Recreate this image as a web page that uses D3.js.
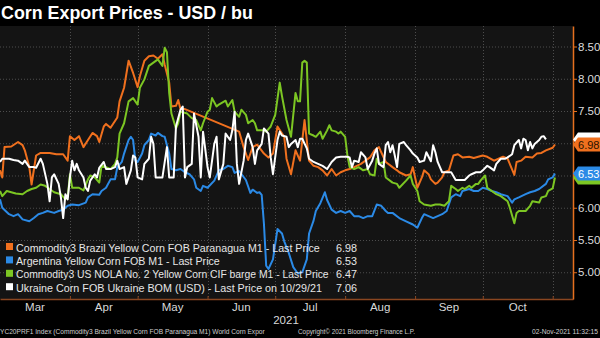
<!DOCTYPE html>
<html>
<head>
<meta charset="utf-8">
<script src="https://cdn.jsdelivr.net/npm/d3@7"></script>
<style>
  html, body { margin: 0; padding: 0; background: #000; }
  svg { display: block; font-family: "Liberation Sans", Arial, sans-serif; }
</style>
</head>
<body>
<svg id="chart" width="600" height="338"></svg>
<script>
// ---- data -------------------------------------------------------------
const title = "Corn Export Prices - USD / bu";
const monthLabels = ["Mar", "Apr", "May", "Jun", "Jul", "Aug", "Sep", "Oct"];
const yearLabel = "2021";
const yTicks = [5.0, 5.5, 6.0, 6.5, 7.0, 7.5, 8.0, 8.5];

const seriesNames = [
  "Commodity3 Brazil Yellow Corn FOB Paranagua M1 - Last Price",
  "Argentina Yellow Corn FOB M1 - Last Price",
  "Commodity3 US NOLA No. 2 Yellow Corn CIF barge M1 - Last Price",
  "Ukraine Corn FOB Ukraine BOM (USD) - Last Price on 10/29/21"
];
const seriesColors = ["#f0701e", "#2b8ae6", "#7cc623", "#ffffff"];

const brazilPrices = [
  ["03-01",6.58],["03-02",6.47],["03-03",6.94],["03-06",6.95],["03-09",7.02],["03-11",6.97],
  ["03-12",6.89],["03-14",6.63],["03-15",6.36],["03-17",6.81],["03-19",6.85],["03-23",6.85],
  ["03-26",6.83],["03-29",6.83],["03-31",6.73],["04-01",7.11],["04-03",7.05],["04-05",7.11],
  ["04-07",6.94],["04-09",7.05],["04-11",7.16],["04-13",7.11],["04-14",7.02],["04-16",7.26],
  ["04-17",7.30],["04-19",7.24],["04-22",7.40],["04-23",7.65],["04-25",7.86],["04-27",8.28],
  ["04-29",8.09],["05-01",7.87],["05-02",8.04],["05-04",8.28],["05-06",8.35],["05-08",8.36],
  ["05-10",8.31],["05-12",8.38],["05-13",8.22],["05-15",7.94],["05-16",7.57],["05-18",7.58],
  ["05-19",7.67],["05-20",7.53],["05-22",7.53],["06-15",7.18],["06-17",6.94],["06-19",6.74],
  ["06-21",6.94],["06-23",6.98],["06-26",6.84],["06-28",6.78],["06-30",6.84],["07-02",7.26],
  ["07-05",7.10],["07-06",6.76],["07-08",6.52],["07-10",6.89],["07-12",6.73],["07-14",7.36],
  ["07-16",6.73],["07-18",6.65],["07-20",6.63],["07-22",6.58],["07-24",6.50],["07-26",6.60],
  ["07-28",6.50],["07-30",6.55],["08-01",6.58],["08-03",6.60],["08-05",6.63],["08-08",6.68],
  ["08-10",6.73],["08-12",6.78],["08-14",6.89],["08-16",6.94],["08-17",6.86],["08-19",6.71],
  ["08-22",6.63],["08-24",6.58],["08-25",6.55],["08-28",6.50],["08-30",6.52],["08-31",6.63],
  ["09-02",6.31],["09-04",6.47],["09-05",6.58],["09-07",6.52],["09-08",6.44],["09-10",6.37],
  ["09-11",6.39],["09-13",6.47],["09-14",6.55],["09-16",6.58],["09-18",6.81],["09-20",6.83],
  ["09-22",6.78],["09-25",6.79],["09-27",6.77],["09-29",6.79],["10-01",6.81],["10-03",6.79],
  ["10-06",6.73],["10-08",6.76],["10-10",6.79],["10-12",6.76],["10-15",6.51],["10-16",6.71],
  ["10-18",6.73],["10-20",6.79],["10-23",6.78],["10-25",6.84],["10-27",6.85],["10-29",6.89],
  ["11-01",6.93],["11-02",6.98]
];

const argentinaPrices = [
  ["03-01",6.13],["03-02",6.00],["03-05",5.90],["03-07",5.87],["03-09",5.90],["03-11",5.82],
  ["03-14",5.79],["03-16",5.84],["03-18",5.90],["03-20",5.92],["03-22",5.95],["03-25",5.92],
  ["03-27",5.95],["03-29",5.97],["03-31",6.03],["04-02",6.05],["04-05",6.04],["04-08",6.08],
  ["04-09",6.16],["04-11",6.21],["04-14",6.20],["04-15",6.26],["04-17",6.31],["04-19",6.44],
  ["04-21",6.44],["04-22",6.63],["04-24",6.71],["04-25",6.84],["04-27",7.05],["04-28",7.10],
  ["04-29",7.05],["04-30",6.73],["05-01",6.71],["05-03",6.84],["05-04",6.97],["05-06",7.05],
  ["05-07",7.15],["05-09",7.12],["05-10",7.16],["05-12",7.11],["05-13",7.10],["05-15",6.84],
  ["05-16",6.60],["05-18",6.58],["05-20",6.60],["05-22",6.55],["05-24",6.52],["05-26",6.44],
  ["05-27",6.31],["05-29",6.26],["05-30",6.34],["06-01",6.31],["06-04",6.42],["06-06",6.58],
  ["06-08",6.60],["06-10",6.65],["06-12",6.63],["06-13",6.54],["06-15",6.57],["06-18",6.43],
  ["06-20",6.23],["06-21",6.28],["06-23",6.23],["06-24",6.24],["06-25",6.20],["06-26",5.75],
  ["06-27",5.10],["06-28",5.05],["06-30",5.20],["07-02",5.67],["07-04",5.60],["07-05",5.48],
  ["07-07",5.30],["07-09",5.08],["07-11",4.98],["07-13",5.00],["07-15",5.20],["07-16",5.60],
  ["07-18",5.80],["07-19",5.95],["07-21",6.07],["07-23",6.24],["07-24",6.12],["07-26",5.97],
  ["07-28",5.92],["07-30",5.95],["08-01",5.92],["08-03",5.95],["08-05",5.87],["08-07",5.87],
  ["08-09",5.84],["08-11",5.87],["08-13",5.87],["08-15",6.05],["08-17",6.03],["08-19",5.95],
  ["08-20",5.92],["08-22",5.92],["08-25",5.84],["08-28",5.79],["08-31",5.74],["09-02",5.69],
  ["09-04",5.84],["09-05",5.90],["09-07",5.87],["09-09",5.84],["09-11",5.87],["09-13",5.90],
  ["09-15",5.95],["09-17",6.16],["09-19",6.21],["09-21",6.18],["09-22",6.26],["09-25",6.29],
  ["09-27",6.26],["09-29",6.26],["10-01",6.31],["10-03",6.29],["10-05",6.26],["10-07",6.24],
  ["10-09",6.21],["10-12",6.18],["10-14",6.08],["10-15",6.13],["10-17",6.16],["10-20",6.21],
  ["10-22",6.24],["10-24",6.26],["10-26",6.29],["10-29",6.37],["10-30",6.44],["11-01",6.47],
  ["11-02",6.53]
];

const usNolaPrices = [
  ["03-01",6.26],["03-02",6.18],["03-04",6.26],["03-06",6.24],["03-08",6.22],["03-11",6.21],
  ["03-13",6.26],["03-15",6.29],["03-17",6.31],["03-19",6.36],["03-21",6.34],["03-23",6.29],
  ["03-25",6.24],["03-28",6.21],["03-30",6.13],["03-31",6.16],["04-01",6.52],["04-02",6.31],
  ["04-05",6.31],["04-07",6.27],["04-09",6.44],["04-10",6.50],["04-12",6.47],["04-14",6.39],
  ["04-15",6.65],["04-17",6.63],["04-19",6.60],["04-21",6.68],["04-22",6.78],["04-23",7.15],
  ["04-25",7.31],["04-27",7.65],["04-29",7.70],["05-01",7.60],["05-02",7.86],["05-04",7.99],
  ["05-06",8.20],["05-08",8.25],["05-10",8.30],["05-12",8.20],["05-13",8.48],["05-14",8.41],
  ["05-15",7.78],["05-16",7.46],["05-18",7.23],["05-19",7.31],["05-20",7.49],["05-23",7.46],
  ["05-25",7.39],["05-27",7.36],["05-29",7.20],["05-30",7.31],["06-01",7.49],["06-02",7.52],
  ["06-03",7.70],["06-05",7.57],["06-06",7.60],["06-09",7.66],["06-10",7.57],["06-12",7.67],
  ["06-13",7.49],["06-15",7.41],["06-16",7.52],["06-18",7.44],["06-19",7.31],["06-21",7.36],
  ["06-22",7.31],["06-23",7.20],["06-26",7.20],["06-27",7.18],["06-29",7.26],["07-01",7.44],
  ["07-03",7.94],["07-04",7.73],["07-06",7.36],["07-08",7.10],["07-10",7.78],["07-11",7.65],
  ["07-12",7.65],["07-13",8.25],["07-14",8.28],["07-15",8.25],["07-16",7.15],["07-18",7.12],
  ["07-19",7.10],["07-21",7.18],["07-22",7.07],["07-24",7.20],["07-25",7.28],["07-26",7.20],
  ["07-28",7.18],["07-29",7.15],["07-30",7.18],["08-01",7.10],["08-02",6.81],["08-03",6.63],
  ["08-05",6.60],["08-07",6.63],["08-09",6.58],["08-11",6.60],["08-12",6.52],["08-14",6.50],
  ["08-15",6.76],["08-16",6.68],["08-18",6.71],["08-19",6.47],["08-22",6.39],["08-24",6.37],
  ["08-25",6.31],["08-28",6.42],["08-30",6.50],["08-31",6.37],["09-02",6.26],["09-03",6.10],
  ["09-05",6.05],["09-08",6.03],["09-10",6.05],["09-12",6.05],["09-14",6.03],["09-16",6.10],
  ["09-17",6.34],["09-19",6.29],["09-20",6.26],["09-22",6.31],["09-23",6.29],["09-25",6.34],
  ["09-26",6.31],["09-28",6.37],["09-29",6.37],["09-30",6.42],["10-02",6.50],["10-03",6.31],
  ["10-05",6.26],["10-07",6.21],["10-09",6.18],["10-12",6.10],["10-13",6.00],["10-15",5.76],
  ["10-16",5.92],["10-17",5.95],["10-20",5.95],["10-22",6.03],["10-23",6.10],["10-26",6.08],
  ["10-27",6.16],["10-29",6.18],["10-30",6.26],["11-01",6.30],["11-02",6.47]
];

const ukrainePrices = [
  ["03-01",6.71],["03-02",6.76],["03-05",6.76],["03-07",6.74],["03-09",6.73],["03-11",6.68],
  ["03-12",6.73],["03-14",6.63],["03-16",6.63],["03-17",6.62],["03-19",6.76],["03-20",6.68],
  ["03-22",6.37],["03-23",6.10],["03-24",6.47],["03-25",6.52],["03-27",6.37],["03-28",6.16],
  ["03-29",5.84],["03-30",6.21],["03-31",6.13],["04-01",6.47],["04-02",6.73],["04-03",6.58],
  ["04-04",6.68],["04-05",6.58],["04-07",6.47],["04-08",6.31],["04-09",6.26],["04-10",6.42],
  ["04-12",6.52],["04-13",6.47],["04-14",6.62],["04-16",6.71],["04-17",6.60],["04-19",6.60],
  ["04-21",6.63],["04-22",6.73],["04-23",6.60],["04-25",6.63],["04-26",6.37],["04-28",6.58],
  ["04-29",6.81],["04-30",6.78],["05-01",6.47],["05-03",6.44],["05-04",6.68],["05-06",6.76],
  ["05-07",7.10],["05-08",6.99],["05-09",6.47],["05-11",6.47],["05-12",6.47],["05-14",6.94],
  ["05-15",6.47],["05-17",6.47],["05-18",7.26],["05-20",7.52],["05-21",7.57],["05-22",6.47],
  ["05-23",6.63],["05-25",6.68],["05-26",7.46],["05-28",7.10],["05-29",6.47],["05-30",7.18],
  ["06-01",6.63],["06-02",6.47],["06-04",6.99],["06-05",7.10],["06-06",6.44],["06-08",6.68],
  ["06-09",7.15],["06-11",7.05],["06-12",7.20],["06-13",7.49],["06-14",6.68],["06-15",6.37],
  ["06-17",6.73],["06-18",7.05],["06-19",7.15],["06-21",6.94],["06-22",6.68],["06-23",6.89],
  ["06-25",6.99],["06-26",7.23],["06-28",7.15],["06-29",6.78],["06-30",6.52],["07-02",7.05],
  ["07-03",7.18],["07-04",7.12],["07-06",7.10],["07-07",6.94],["07-08",6.99],["07-10",7.05],
  ["07-11",6.94],["07-12",7.07],["07-13",7.07],["07-15",6.92],["07-16",6.76],["07-18",6.71],
  ["07-20",6.68],["07-22",6.65],["07-24",6.60],["07-26",6.71],["07-28",6.78],["07-30",6.79],
  ["08-02",6.79],["08-03",6.78],["08-04",6.63],["08-05",6.73],["08-07",6.71],["08-08",6.86],
  ["08-10",6.78],["08-11",6.60],["08-13",6.73],["08-14",6.84],["08-15",6.92],["08-16",6.68],
  ["08-18",6.63],["08-19",6.97],["08-20",7.02],["08-21",6.86],["08-22",6.97],["08-23",6.81],
  ["08-24",6.63],["08-25",6.99],["08-27",7.02],["08-28",6.97],["08-30",6.89],["08-31",6.84],
  ["09-02",6.78],["09-03",6.71],["09-05",6.73],["09-06",6.86],["09-08",6.72],["09-09",6.97],
  ["09-10",6.86],["09-11",6.71],["09-13",6.55],["09-15",6.55],["09-17",6.55],["09-19",6.43],
  ["09-21",6.43],["09-23",6.43],["09-25",6.50],["09-26",6.52],["09-28",6.55],["09-30",6.55],
  ["10-01",6.58],["10-03",6.65],["10-04",6.63],["10-06",6.58],["10-07",6.68],["10-09",6.76],
  ["10-11",6.76],["10-12",6.78],["10-14",6.83],["10-15",6.97],["10-17",7.05],["10-18",6.92],
  ["10-19",7.07],["10-20",7.05],["10-21",6.89],["10-22",7.02],["10-23",6.92],["10-24",6.99],
  ["10-25",7.02],["10-26",7.05],["10-27",7.10],["10-28",7.11],["10-29",7.06]
];

const footerLeft = "YC20PRF1 Index (Commodity3 Brazil Yellow Corn FOB Paranagua M1) World Corn Expor";
const footerMid = "Copyright\u00A9 2021 Bloomberg Finance L.P.";
const footerRight = "02-Nov-2021 11:32:15";

// ---- layout -----------------------------------------------------------
const W = 600, H = 338;
const plot = { left: 0, right: 573, top: 26, bottom: 299 };

// shrink a text's font size until its natural width equals the given width
function fitWidth(sel, width) {
  const w = sel.node().getComputedTextLength();
  const fs = parseFloat(sel.attr("font-size"));
  if (w > 0) sel.attr("font-size", (fs * width / w).toFixed(2));
  return sel;
}

const parse = d3.timeParse("%Y-%m-%d");
const toPoints = arr => arr.map(([d, v]) => ({ date: parse("2021-" + d), value: v }));
const series = [brazilPrices, argentinaPrices, usNolaPrices, ukrainePrices].map((arr, i) => ({
  name: seriesNames[i], color: seriesColors[i], points: toPoints(arr)
}));
const lastValue = s => s.points[s.points.length - 1].value;
const fmt = d3.format(".2f");

const x = d3.scaleTime()
  .domain([parse("2021-03-01"), parse("2021-11-10")])
  .range([plot.left, plot.right]);
const y = d3.scaleLinear()
  .domain([4.585, 8.818])
  .range([plot.bottom, plot.top]);

const svg = d3.select("#chart");
svg.append("rect").attr("width", W).attr("height", H).attr("fill", "#000");

// plot background
svg.append("rect")
  .attr("x", plot.left).attr("y", plot.top)
  .attr("width", plot.right - plot.left).attr("height", plot.bottom - plot.top)
  .attr("fill", "#141414");

// title
fitWidth(svg.append("text")
  .attr("x", 1).attr("y", 19)
  .attr("fill", "#fff")
  .attr("font-size", 17).attr("font-weight", "bold")
  .text(title), 252);

// month boundaries
const monthStarts = d3.timeMonth.range(parse("2021-03-01"), parse("2021-11-02"));
const boundaries = monthStarts.slice(1);

// grid
const grid = svg.append("g").attr("stroke", "#4d4d4d").attr("stroke-dasharray", "1,2");
grid.selectAll(".h").data(yTicks).join("line")
  .attr("x1", plot.left).attr("x2", plot.right)
  .attr("y1", d => y(d) + 0.5).attr("y2", d => y(d) + 0.5);
grid.selectAll(".v").data(boundaries).join("line")
  .attr("x1", d => Math.round(x(d)) + 0.5).attr("x2", d => Math.round(x(d)) + 0.5)
  .attr("y1", plot.top).attr("y2", plot.bottom);

// series lines
svg.append("clipPath").attr("id", "plot-clip")
  .append("rect")
  .attr("x", plot.left).attr("y", plot.top)
  .attr("width", plot.right - plot.left).attr("height", plot.bottom - plot.top);

const line = d3.line().x(d => x(d.date)).y(d => y(d.value));
svg.append("g").attr("clip-path", "url(#plot-clip)")
  .selectAll("path").data(series).join("path")
  .attr("d", s => line(s.points))
  .attr("fill", "none")
  .attr("stroke", s => s.color)
  .attr("stroke-width", 2)
  .attr("stroke-linejoin", "round");

// legend
const legend = svg.append("g").attr("transform", "translate(0,247)");
const legendWidths = [304, 204, 313, 306];
series.forEach((s, i) => {
  const row = legend.append("g").attr("transform", `translate(0,${i * 13.4})`);
  row.append("rect").attr("x", 6).attr("y", -4).attr("width", 7).attr("height", 7).attr("fill", s.color);
  fitWidth(row.append("text").attr("x", 16).attr("y", 4.5)
    .attr("fill", "#e6e6e6").attr("font-size", 11.5)
    .text(s.name), legendWidths[i]);
  fitWidth(row.append("text").attr("x", 336).attr("y", 4.5)
    .attr("fill", "#e6e6e6").attr("font-size", 11.5)
    .text(fmt(lastValue(s))), 21);
});

// bottom axis
const xAxis = d3.axisBottom(x).tickValues(boundaries).tickSize(-3).tickFormat("").tickSizeOuter(0);
const gx = svg.append("g").attr("transform", `translate(0,${plot.bottom})`).call(xAxis);
gx.select(".domain").attr("stroke", "#8a4620").attr("stroke-width", 1.5);
gx.selectAll(".tick line").attr("stroke", "#8a4620");

svg.append("g").selectAll("text").data(monthStarts).join("text")
  .attr("x", d => (x(d) + x(d3.timeMonth.offset(d, 1))) / 2)
  .attr("y", 311)
  .attr("text-anchor", "middle")
  .attr("fill", "#d9d9d9").attr("font-size", 11.5)
  .text((d, i) => monthLabels[i]);
svg.append("text").attr("x", 286).attr("y", 324)
  .attr("text-anchor", "middle").attr("fill", "#d9d9d9").attr("font-size", 11.5)
  .text(yearLabel);

// right axis; labels that sit under a last-value tag are left out
const tagYs = series.map(s => y(lastValue(s)));
const underTag = v => tagYs.some(ty => Math.abs(y(v) - ty) < 9);
const yAxis = d3.axisRight(y).tickValues(yTicks).tickSize(4).tickSizeOuter(0)
  .tickFormat(v => underTag(v) ? "" : fmt(v));
const gy = svg.append("g").attr("transform", `translate(${plot.right},0)`).call(yAxis);
gy.attr("font-family", null).attr("font-size", null);
gy.select(".domain").attr("stroke", "#e5701f").attr("stroke-width", 1.5);
gy.selectAll(".tick line").attr("stroke", "#e5701f");
gy.selectAll(".tick text").attr("fill", "#dcdcdc").attr("font-size", 11.5).attr("x", 5);

// last value tags: white sits under orange, green under blue; only the top tag is labelled
const tagLayers = [
  { i: 3, label: false, ink: "#000" },
  { i: 2, label: false, ink: "#000" },
  { i: 0, label: true, ink: "#2b1300" },
  { i: 1, label: true, ink: "#ffffff" }
];
tagLayers.forEach(t => {
  const s = series[t.i];
  const v = lastValue(s);
  const cy = y(v);
  const g = svg.append("g");
  g.append("path")
    .attr("d", `M${plot.right},${cy} L${plot.right + 5},${cy - 7} L${W + 3},${cy - 7} L${W + 3},${cy + 7} L${plot.right + 5},${cy + 7} Z`)
    .attr("fill", s.color);
  if (t.label) {
    fitWidth(g.append("text").attr("x", plot.right + 5).attr("y", cy + 4.2)
      .attr("fill", t.ink).attr("font-size", 11.5)
      .text(fmt(v)), 21.5);
  }
});

// footer
const footer = svg.append("g").attr("fill", "#cfcfcf");
fitWidth(footer.append("text").attr("x", 0).attr("y", 334).attr("font-size", 8.5).text(footerLeft), 265);
fitWidth(footer.append("text").attr("x", 298).attr("y", 334).attr("font-size", 8.5).text(footerMid), 117);
fitWidth(footer.append("text").attr("x", 532).attr("y", 334).attr("font-size", 8.5).text(footerRight), 66);
</script>
</body>
</html>
